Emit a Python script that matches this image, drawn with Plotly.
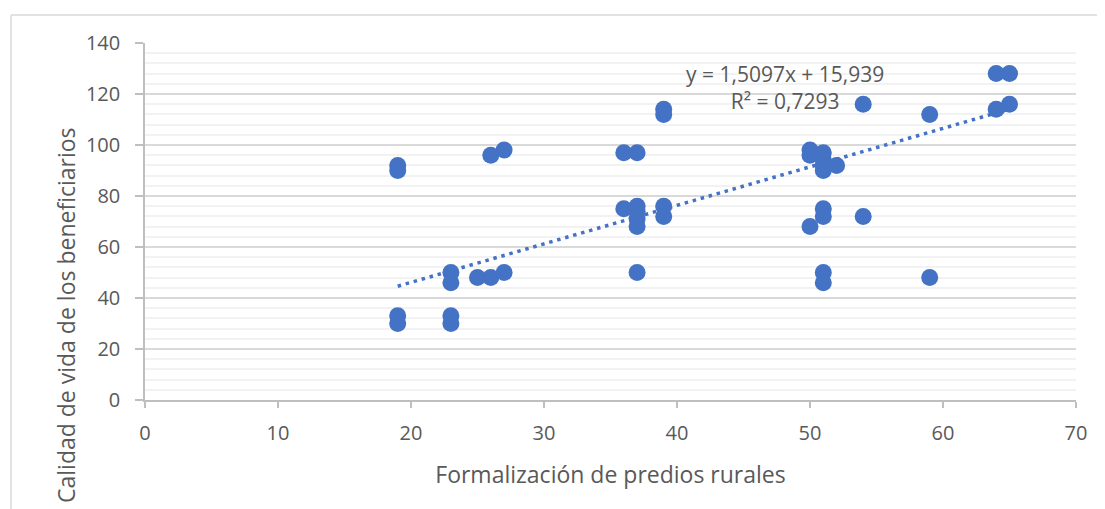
import plotly.graph_objects as go

# Data
formalizacion = [19, 19, 19, 19,
                 23, 23, 23, 23,
                 25,
                 26, 26,
                 27, 27,
                 36, 36,
                 37, 37, 37, 37, 37, 37,
                 39, 39, 39, 39,
                 50, 50, 50,
                 51, 51, 51, 51, 51, 51, 51, 51,
                 52,
                 54, 54,
                 59, 59,
                 64, 64,
                 65, 65]
calidad_vida = [92, 90, 33, 30,
                50, 46, 33, 30,
                48,
                96, 48,
                98, 50,
                97, 75,
                97, 76, 74, 71, 68, 50,
                114, 112, 76, 72,
                98, 96, 68,
                97, 94, 92, 90, 75, 72, 50, 46,
                92,
                116, 72,
                112, 48,
                128, 114,
                128, 116]

# Trendline as reported on the chart
slope = 1.5097
intercept = 15.939
r2_text = "0,7293"

x_ticks = [0, 10, 20, 30, 40, 50, 60, 70]
y_ticks = [0, 20, 40, 60, 80, 100, 120, 140]

BLUE = "#4472C4"
FONT = "Open Sans"
TXT = "#595959"

x_min, x_max = min(formalizacion), max(formalizacion)
trend_x = [x_min, x_max]
trend_y = [slope * v + intercept for v in trend_x]

fig = go.Figure()
fig.add_trace(go.Scatter(
    x=trend_x, y=trend_y, mode="lines",
    line=dict(color=BLUE, width=3.5, dash="3.5px,4.8px"),
    hoverinfo="skip", showlegend=False))
fig.add_trace(go.Scatter(
    x=formalizacion, y=calidad_vida, mode="markers",
    marker=dict(color=BLUE, size=17, line=dict(width=0)),
    showlegend=False))

# plot area in page pixels: x 145..1076, y 43..400 (page has 8px body margin)
L, T = 137, 35
PW, PH = 931, 357

fig.update_layout(
    width=1105, height=509,
    margin=dict(l=L, r=1105 - L - PW, t=T, b=509 - T - PH),
    paper_bgcolor="white", plot_bgcolor="white",
    font=dict(family=FONT, color=TXT, size=20),
    showlegend=False,
)

fig.update_xaxes(
    range=[0, 70], tickvals=x_ticks, ticktext=[str(v) for v in x_ticks],
    showgrid=False, zeroline=False,
    showline=True, linecolor="#bfbfbf", linewidth=1.5,
    ticks="outside", ticklen=6, tickcolor="#bfbfbf", tickwidth=1.5,
    ticklabelstandoff=8,
    tickfont=dict(size=20, color=TXT, family=FONT),
    title=dict(text="Formalización de predios rurales",
               font=dict(size=23, color=TXT, family=FONT), standoff=22),
)
fig.update_yaxes(
    range=[0, 140], tickvals=y_ticks, ticktext=[str(v) for v in y_ticks],
    showgrid=True, gridcolor="#d9d9d9", gridwidth=1.5,
    zeroline=False,
    showline=True, linecolor="#bfbfbf", linewidth=1.5,
    ticks="outside", ticklen=8, tickcolor="#bfbfbf", tickwidth=1.5,
    ticklabelstandoff=11,
    tickfont=dict(size=20, color=TXT, family=FONT),
    minor=dict(dtick=4, showgrid=True, gridcolor="#f2f2f2", gridwidth=1.5, ticks=""),
)

def px_x(p):
    return (p - 8 - L) / PW

def px_y(p):
    return 1 - (p - 8 - T) / PH

# Y-axis title
fig.add_annotation(
    xref="paper", yref="paper",
    x=px_x(66), y=px_y(315),
    text="Calidad de vida de los beneficiarios",
    textangle=-90, showarrow=False,
    font=dict(size=23, color=TXT, family=FONT),
    xanchor="center", yanchor="middle",
)

# Trendline equation label
fig.add_annotation(
    xref="paper", yref="paper",
    x=px_x(785), y=px_y(87),
    text=f"y = {str(slope).replace('.', ',')}x + {str(intercept).replace('.', ',')}<br>R² = {r2_text}",
    showarrow=False, align="center",
    font=dict(size=21, color=TXT, family=FONT),
    xanchor="center", yanchor="middle",
)

# Chart frame (partly visible at left and top)
fx0 = px_x(11)
fy1 = px_y(15)
fig.add_shape(type="line", xref="paper", yref="paper",
              x0=fx0, x1=fx0, y0=-1, y1=fy1,
              line=dict(color="#d9d9d9", width=1.5))
fig.add_shape(type="line", xref="paper", yref="paper",
              x0=fx0, x1=2, y0=fy1, y1=fy1,
              line=dict(color="#d9d9d9", width=1.5))

fig.write_html("out.html")
